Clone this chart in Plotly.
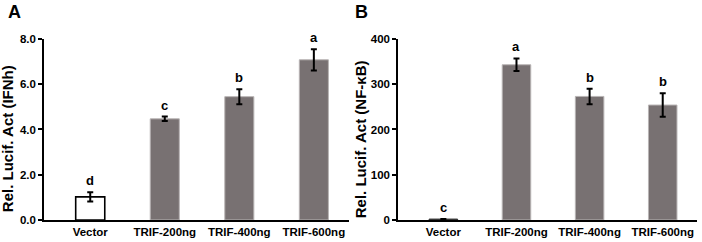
import plotly.graph_objects as go

categories = ["Vector", "TRIF-200ng", "TRIF-400ng", "TRIF-600ng"]
ifn_values = [1.02, 4.47, 5.45, 7.08]
ifn_errors = [0.20, 0.10, 0.33, 0.47]
ifn_letters = ["d", "c", "b", "a"]
nfkb_values = [2, 343, 273, 254]
nfkb_errors = [0, 14, 17, 26]
nfkb_letters = ["c", "a", "b", "b"]
ifn_ticks = [0, 2, 4, 6, 8]
ifn_ticktext = ["0.0", "2.0", "4.0", "6.0", "8.0"]
nfkb_ticks = [0, 100, 200, 300, 400]

FONT = "Liberation Sans, Arial, sans-serif"
GRAY = "#787172"
EDGE = "#b8b4b4"

fig = go.Figure()

fig.add_trace(go.Bar(
    x=categories, y=ifn_values, xaxis="x", yaxis="y",
    marker=dict(color=["white", GRAY, GRAY, GRAY],
                line=dict(color=["black", EDGE, EDGE, EDGE], width=[1.6, 1, 1, 1])),
    width=0.39,
    error_y=dict(type="data", array=ifn_errors, color="black", thickness=2, width=3),
    showlegend=False,
))
fig.add_trace(go.Bar(
    x=categories, y=nfkb_values, xaxis="x2", yaxis="y2",
    marker=dict(color=["#333333", GRAY, GRAY, GRAY],
                line=dict(color=["#333333", EDGE, EDGE, EDGE], width=1)),
    width=0.39,
    error_y=dict(type="data", array=nfkb_errors, color="black", thickness=2, width=3),
    showlegend=False,
))

LFONT = dict(size=13, family=FONT, color="black", weight="bold")
ann = []
for c, v, e, t in zip(categories, ifn_values, ifn_errors, ifn_letters):
    ann.append(dict(x=c, y=v + e, xref="x", yref="y", text=t, showarrow=False,
                    yanchor="bottom", yshift=2, font=LFONT))
for c, v, e, t in zip(categories, nfkb_values, nfkb_errors, nfkb_letters):
    ann.append(dict(x=c, y=v + e, xref="x2", yref="y2", text=t, showarrow=False,
                    yanchor="bottom", yshift=2, font=LFONT))
PFONT = dict(size=18, family=FONT, color="black", weight="bold")
ann.append(dict(x=0.009, y=0.998, xref="paper", yref="paper", text="A", showarrow=False,
                xanchor="left", yanchor="top", font=PFONT))
ann.append(dict(x=0.503, y=0.998, xref="paper", yref="paper", text="B", showarrow=False,
                xanchor="left", yanchor="top", font=PFONT))
TFONT = dict(size=15, family=FONT, color="black", weight="bold")
ann.append(dict(x=0.010, y=0.425, xref="paper", yref="paper", text="Rel. Lucif. Act (IFNh)",
                showarrow=False, textangle=-90, xanchor="center", yanchor="middle", font=TFONT))
ann.append(dict(x=0.513, y=0.425, xref="paper", yref="paper", text="Rel. Lucif. Act (NF-κB)",
                showarrow=False, textangle=-90, xanchor="center", yanchor="middle", font=TFONT))

xcommon = dict(showline=True, linecolor="black", linewidth=2, ticks="", showgrid=False,
               zeroline=False, range=[-0.62, 3.47], type="category", automargin=False,
               tickfont=dict(size=11.5, family=FONT, color="black", weight="bold"))
ycommon = dict(showline=True, linecolor="black", linewidth=1.5, ticks="outside", ticklen=4,
               tickwidth=1.5, tickcolor="black", showgrid=False, zeroline=False, automargin=False,
               tickfont=dict(size=11.5, family=FONT, color="black", weight="bold"))

fig.update_layout(
    width=702, height=242,
    margin=dict(l=0, r=0, t=0, b=0, autoexpand=False),
    paper_bgcolor="white", plot_bgcolor="white",
    xaxis=dict(domain=[0.0627, 0.497], anchor="y", **xcommon),
    yaxis=dict(domain=[0.091, 0.839], anchor="x", range=[0, 8], tickvals=ifn_ticks,
               ticktext=ifn_ticktext, **ycommon),
    xaxis2=dict(domain=[0.567, 0.993], anchor="y2", **xcommon),
    yaxis2=dict(domain=[0.091, 0.839], anchor="x2", range=[0, 400], tickvals=nfkb_ticks,
                **ycommon),
    annotations=ann,
)

fig.write_html("out.html", config={"displayModeBar": False},
               post_script="document.body.style.margin='0';")
